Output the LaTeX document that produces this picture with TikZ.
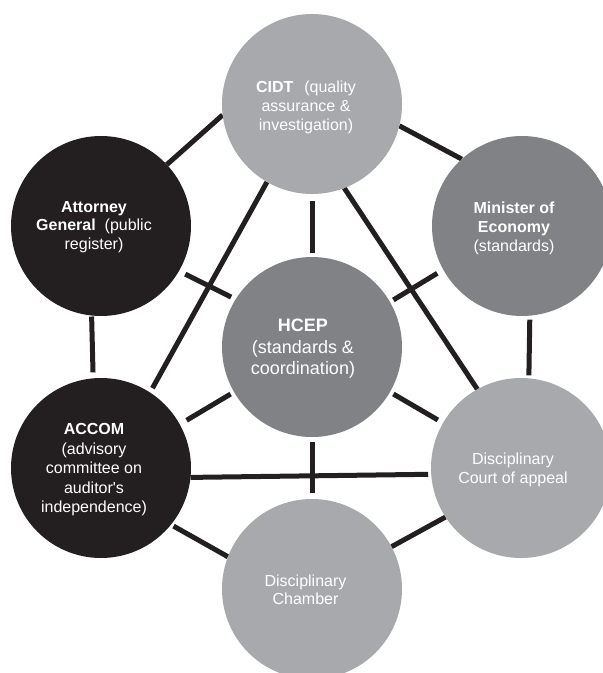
\documentclass[tikz,border=0pt]{standalone}
\usepackage{fontspec}
\setmainfont{Liberation Sans}
\usetikzlibrary{backgrounds}
\definecolor{inkblack}{HTML}{231F20}
\definecolor{lightgrey}{HTML}{A7A9AC}
\definecolor{midgrey}{HTML}{808285}
\begin{document}
\begin{tikzpicture}[x=1pt,y=-1pt,
  hub/.style={circle, minimum size=180pt, inner sep=0pt, outer sep=0pt, draw=none},
  lightnode/.style={hub, fill=lightgrey},
  midnode/.style={hub, fill=midgrey},
  darknode/.style={hub, fill=inkblack},
  lbl/.style={text=white, align=center, inner sep=0pt, font=\fontsize{16}{19}\selectfont},
  link/.style={draw=inkblack, line width=5pt}]
\useasboundingbox (0,0) rectangle (603,673);
\clip (0,0) rectangle (603,673);

% circles
\node[lightnode] (cidt)  at (312,104) {};
\node[darknode]  (ag)    at (101,226) {};
\node[midnode]   (me)    at (522,226) {};
\node[midnode]   (hcep)  at (312,347) {};
\node[darknode]  (accom) at (101,468) {};
\node[lightnode] (dca)   at (521,468) {};
\node[lightnode] (dc)    at (312,589) {};

% labels
\node[lbl] (cidt-t) at (306,107)
  {\textbf{CIDT}\hspace{11pt}(quality\\assurance \&\\investigation)};
\node[lbl, font=\fontsize{16}{18.5}\selectfont] (ag-t) at (94,227)
  {\textbf{Attorney}\\\textbf{General}\ \ (public\\register)};
\node[lbl] (me-t) at (514,228)
  {\textbf{Minister of}\\\textbf{Economy}\\(standards)};
\node[lbl, font=\fontsize{18}{21.5}\selectfont] (hcep-t) at (303,349)
  {\textbf{HCEP}\\(standards \&\\coordination)};
\node[lbl, font=\fontsize{16}{19.5}\selectfont] (accom-t) at (94,470)
  {\textbf{ACCOM}\\(advisory\\committee on\\auditor\textquotesingle s\\independence)};
\node[lbl, font=\fontsize{16}{18.3}\selectfont] (dca-t) at (513,470)
  {Disciplinary\\Court of appeal};
\node[lbl, font=\fontsize{16}{18}\selectfont] (dc-t) at (305.5,590)
  {Disciplinary\\Chamber};

% connectors
\begin{scope}[on background layer]
\draw[link] (ag.43.3) -- (cidt.187.6);
\draw[link] (cidt.-14.2) -- (me.132);
\draw[link, shorten <=7pt, shorten >=4pt] (cidt.-90) -- (hcep.90);
\draw[link] (cidt.-69.4) -- (dca.119.5);
\draw[link, shorten >=5pt] (cidt.240.3) -- (accom.57);
\draw[link, shorten <=7pt, shorten >=5pt] (ag.-30.3) -- (hcep.148.8);
\draw[link, shorten <=7pt, shorten >=4pt] (me.209.7) -- (hcep.30.1);
\draw[link, shorten <=1pt, shorten >=6pt] (ag.264.4) -- (accom.95.4);
\draw[link, shorten <=4pt, shorten >=3pt] (me.-85.7) -- (dca.85.1);
\draw[link, shorten <=4pt, shorten >=8pt] (hcep.210.1) -- (accom.29.5);
\draw[link, shorten <=4pt, shorten >=6pt] (hcep.-30.1) -- (dca.150);
\draw[link, shorten <=5pt, shorten >=6pt] (hcep.-90) -- (dc.90);
\draw[link, shorten >=3pt] (accom.-6.3) -- (dca.184.3);
\draw[link, shorten <=3pt] (accom.-39.3) -- (dc.159.4);
\draw[link] (dc.28.3) -- (dca.213.9);
\end{scope}
\end{tikzpicture}
\end{document}
